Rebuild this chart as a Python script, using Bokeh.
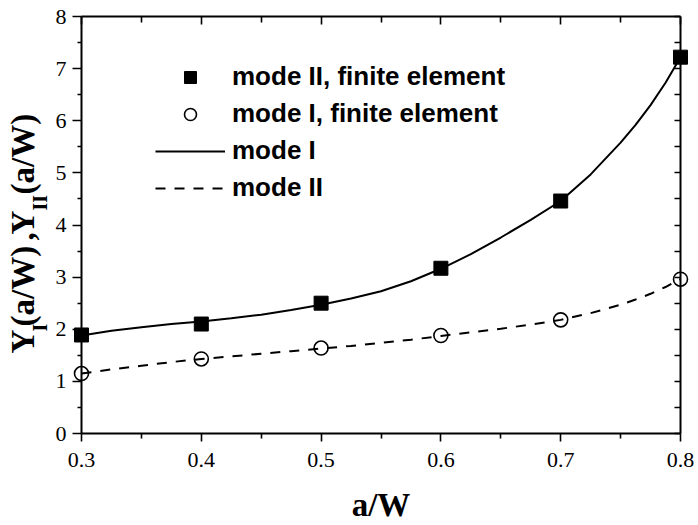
import math
from bokeh.plotting import figure
from bokeh.models import (LinearAxis, Range1d, Legend, LegendItem, Label,
                          LabelSet, ColumnDataSource, FixedTicker)
from bokeh.embed import file_html
from bokeh.resources import INLINE

# ---- data ----
aw_points = [0.3, 0.4, 0.5, 0.6, 0.7, 0.8]
fe_upper = [1.89, 2.10, 2.50, 3.17, 4.46, 7.22]   # filled squares
fe_lower = [1.15, 1.43, 1.64, 1.88, 2.18, 2.96]   # open circles

aw_curve = [0.300, 0.325, 0.350, 0.375, 0.400, 0.425, 0.450, 0.475, 0.500,
            0.525, 0.550, 0.575, 0.600, 0.625, 0.650, 0.675, 0.700, 0.725,
            0.750, 0.7625, 0.775, 0.7875, 0.800]
curve_solid = [1.88, 1.97, 2.04, 2.10, 2.15, 2.21, 2.28, 2.37, 2.47,
               2.59, 2.73, 2.92, 3.16, 3.44, 3.76, 4.10, 4.46, 4.97,
               5.58, 5.92, 6.30, 6.73, 7.22]
curve_dashed = [1.15, 1.23, 1.30, 1.37, 1.43, 1.48, 1.53, 1.58, 1.63,
                1.68, 1.74, 1.80, 1.87, 1.94, 2.01, 2.09, 2.18, 2.31,
                2.47, 2.57, 2.68, 2.81, 2.96]

x_ticks = [0.3, 0.4, 0.5, 0.6, 0.7, 0.8]
x_minor = [0.35, 0.45, 0.55, 0.65, 0.75]
x_tick_labels = ["0.3", "0.4", "0.5", "0.6", "0.7", "0.8"]
y_ticks = [0, 1, 2, 3, 4, 5, 6, 7, 8]
y_minor = [0.5, 1.5, 2.5, 3.5, 4.5, 5.5, 6.5, 7.5]
y_tick_labels = ["0", "1", "2", "3", "4", "5", "6", "7", "8"]

x_title = "a/W"
legend_labels = ["mode II, finite element", "mode I, finite element",
                 "mode I", "mode II"]

# ---- layout constants (pixels) ----
AXIS_LEFT_PX = 81       # pixel column of a/W = 0.3
PX_PER_UNIT_X = 1198.0
AXIS_TOP_PX = 16        # pixel row of Y = 8
PX_PER_UNIT_Y = 52.125
FRAME_W = 697
FRAME_H = 525

def px_to_x(px):
    return 0.3 + (px - AXIS_LEFT_PX) / PX_PER_UNIT_X

def py_to_y(py):
    return 8 - (py - AXIS_TOP_PX) / PX_PER_UNIT_Y

p = figure(frame_width=FRAME_W, frame_height=FRAME_H,
           x_range=Range1d(px_to_x(0), px_to_x(FRAME_W)),
           y_range=Range1d(py_to_y(FRAME_H), py_to_y(0)),
           x_axis_location=None, y_axis_location=None,
           output_backend="svg", toolbar_location=None,
           min_border_left=0, min_border_right=0, min_border_top=0,
           min_border_bottom=0)
p.outline_line_color = None
p.background_fill_color = "white"
p.border_fill_color = "white"
for g in p.grid:
    g.visible = False

AX = dict(axis_line_width=2, axis_line_color="black",
          major_tick_line_width=1.6, minor_tick_line_width=1.6,
          major_tick_line_color="black", minor_tick_line_color="black",
          major_label_text_color=None)

xt = FixedTicker(ticks=x_ticks, minor_ticks=x_minor)
yt = FixedTicker(ticks=y_ticks, minor_ticks=y_minor)

p.add_layout(LinearAxis(ticker=xt, fixed_location=0, bounds=(0.3, 0.8),
                        major_tick_out=8, major_tick_in=0, minor_tick_out=5,
                        minor_tick_in=0, **AX), "below")
p.add_layout(LinearAxis(ticker=xt, fixed_location=8, bounds=(0.3, 0.8),
                        major_tick_out=0, major_tick_in=8, minor_tick_out=0,
                        minor_tick_in=6, **AX), "above")
p.add_layout(LinearAxis(ticker=yt, fixed_location=0.3, bounds=(0, 8),
                        major_tick_out=9, major_tick_in=0, minor_tick_out=4,
                        minor_tick_in=0, **AX), "left")
p.add_layout(LinearAxis(ticker=yt, fixed_location=0.8, bounds=(0, 8),
                        major_tick_out=0, major_tick_in=6, minor_tick_out=0,
                        minor_tick_in=6, **AX), "right")

# tick labels
ysrc = ColumnDataSource(dict(x=[0.3] * len(y_ticks), y=y_ticks,
                             text=y_tick_labels))
p.add_layout(LabelSet(x="x", y="y", text="text", source=ysrc, x_offset=-15,
                      text_align="right", text_baseline="middle",
                      text_font="Liberation Sans", text_font_size="22px",
                      text_color="black"))
xsrc = ColumnDataSource(dict(x=x_ticks, y=[0] * len(x_ticks),
                             text=x_tick_labels))
p.add_layout(LabelSet(x="x", y="y", text="text", source=xsrc, y_offset=-26,
                      text_align="center", text_baseline="middle",
                      text_font="Liberation Sans", text_font_size="22px",
                      text_color="black"))

# x title
p.add_layout(Label(x=0.55, y=py_to_y(504), text=x_title, text_align="center",
                   text_baseline="middle", text_font="Liberation Serif",
                   text_font_style="bold", text_font_size="33px",
                   text_color="black"))

# ---- glyphs ----
r_solid = p.line(aw_curve, curve_solid, line_color="black", line_width=2)
r_dash = p.line(aw_curve, curve_dashed, line_color="black", line_width=2,
                line_dash="10 9")
r_sq = p.scatter(aw_points, fe_upper, marker="square", size=14,
                 fill_color="black", line_color="black")
r_ci = p.scatter(aw_points, fe_lower, marker="circle", size=14,
                 fill_color=None, line_color="black", line_width=1.6)

# legend: location is bottom-left of legend relative to frame bottom-left
legend = Legend(items=[LegendItem(label=legend_labels[0], renderers=[r_sq]),
                       LegendItem(label=legend_labels[1], renderers=[r_ci]),
                       LegendItem(label=legend_labels[2], renderers=[r_solid]),
                       LegendItem(label=legend_labels[3], renderers=[r_dash])],
                location=(155, FRAME_H - 203), glyph_width=70,
                glyph_height=30, label_height=30, spacing=6, padding=0,
                margin=0, border_line_color=None, background_fill_alpha=0,
                label_text_font="Liberation Sans",
                label_text_font_style="bold", label_text_font_size="26px",
                label_text_color="black", label_standoff=7)
p.add_layout(legend)

# ---- rotated y-axis title with subscripts (middle-anchored pieces) ----
pieces = [("Y", 353, 22, "33px"),
          ("I", 331, 39, "20px"),
          ("(a/W)", 326, 22, "33px"),
          (",", 240, 22, "33px"),
          ("Y", 234, 22, "33px"),
          ("II", 210, 39, "20px"),
          ("(a/W)", 194, 22, "33px")]
for txt, py, px, fs in pieces:
    p.add_layout(Label(x=px_to_x(px), y=py_to_y(py), text=txt,
                       angle=math.pi / 2, text_font="Liberation Serif",
                       text_font_style="bold", text_font_size=fs,
                       text_color="black", text_align="left",
                       text_baseline="middle"))

open("out.html", "w").write(file_html(p, INLINE))
